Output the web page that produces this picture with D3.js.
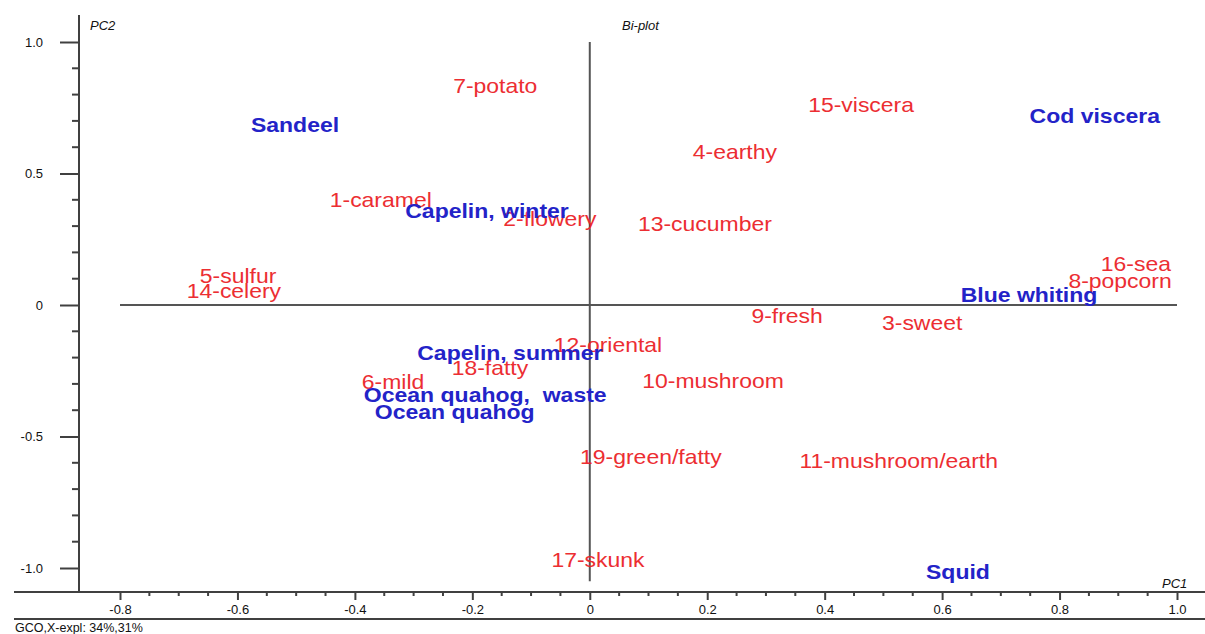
<!DOCTYPE html>
<html>
<head>
<meta charset="utf-8">
<script src="https://cdn.jsdelivr.net/npm/d3@7"></script>
<style>
  html, body { margin: 0; padding: 0; background: #fff; }
  svg { display: block; }
  text { font-family: "Liberation Sans", Arial, sans-serif; }
</style>
</head>
<body>
<svg id="chart" width="1205" height="634"></svg>
<script>
// Sensory attributes (loadings) – PC1 / PC2
const attributes = ["7-potato", "15-viscera", "4-earthy", "1-caramel", "2-flowery", "13-cucumber",
  "5-sulfur", "14-celery", "16-sea", "8-popcorn", "9-fresh", "3-sweet", "12-oriental",
  "18-fatty", "6-mild", "10-mushroom", "19-green/fatty", "11-mushroom/earth", "17-skunk"];
const attrPC1 = [-0.161, 0.462, 0.247, -0.356, -0.068, 0.196, -0.599, -0.606, 0.930, 0.903,
  0.336, 0.566, 0.031, -0.170, -0.335, 0.210, 0.104, 0.526, 0.014];
const attrPC2 = [0.833, 0.760, 0.582, 0.399, 0.327, 0.308, 0.110, 0.053, 0.156, 0.091,
  -0.042, -0.068, -0.152, -0.240, -0.293, -0.289, -0.578, -0.593, -0.970];

// Raw materials (scores) – PC1 / PC2
const samples = ["Sandeel", "Cod viscera", "Capelin, winter", "Blue whiting", "Capelin, summer",
  "Ocean quahog,  waste", "Ocean quahog", "Squid"];
const samplePC1 = [-0.502, 0.860, -0.175, 0.748, -0.136, -0.178, -0.230, 0.627];
const samplePC2 = [0.684, 0.715, 0.354, 0.034, -0.183, -0.346, -0.411, -1.019];

// Axis ticks
const xMajor = [-0.8, -0.6, -0.4, -0.2, 0, 0.2, 0.4, 0.6, 0.8, 1.0];
const xLabels = ["-0.8", "-0.6", "-0.4", "-0.2", "0", "0.2", "0.4", "0.6", "0.8", "1.0"];
const yMajor = [1.0, 0.5, 0, -0.5, -1.0];
const yLabels = ["1.0", "0.5", "0", "-0.5", "-1.0"];
const footer = "GCO,X-expl: 34%,31%";

const svg = d3.select("#chart");
const x = d3.scaleLinear().domain([-0.8, 1.0]).range([120, 1177]);
const y = d3.scaleLinear().domain([-1, 1]).range([568, 42]);

const axisColor = "#404040";
const labelColor = "#111";
const frameLeft = 14, frameRight = 1205;
const yAxisX = 79, xAxisY = 592;

// minor tick positions
const xMinor = d3.range(-16, 21).map(i => i * 0.05).filter(v => !xMajor.some(m => Math.abs(m - v) < 1e-6));
const yMinor = d3.range(-10, 11).map(i => i * 0.1).filter(v => !yMajor.some(m => Math.abs(m - v) < 1e-6));

// Y axis
const gy = svg.append("g").attr("transform", `translate(${yAxisX},0)`);
gy.append("line").attr("x1", 0).attr("x2", 0).attr("y1", 15).attr("y2", xAxisY)
  .attr("stroke", axisColor).attr("stroke-width", 2);
gy.call(d3.axisLeft(y).tickValues(yMajor).tickSize(19).tickPadding(17)
    .tickFormat((d, i) => yLabels[i]))
  .call(g => g.select(".domain").remove())
  .call(g => g.selectAll(".tick line").attr("stroke", axisColor).attr("stroke-width", 2))
  .call(g => g.selectAll(".tick text").attr("fill", labelColor).attr("font-size", 13)
     .attr("font-family", "'Liberation Sans', Arial, sans-serif"));
gy.selectAll("line.minor").data(yMinor).join("line").attr("class", "minor")
  .attr("x1", -7).attr("x2", 0).attr("y1", d => y(d)).attr("y2", d => y(d))
  .attr("stroke", axisColor).attr("stroke-width", 2);

// X axis
const gx = svg.append("g").attr("transform", `translate(0,${xAxisY})`);
gx.append("line").attr("x1", frameLeft).attr("x2", frameRight).attr("y1", 0).attr("y2", 0)
  .attr("stroke", axisColor).attr("stroke-width", 2);
gx.call(d3.axisBottom(x).tickValues(xMajor).tickSize(8).tickPadding(5)
    .tickFormat((d, i) => xLabels[i]))
  .call(g => g.select(".domain").remove())
  .call(g => g.selectAll(".tick line").attr("stroke", axisColor).attr("stroke-width", 2))
  .call(g => g.selectAll(".tick text").attr("fill", labelColor).attr("font-size", 13)
     .attr("font-family", "'Liberation Sans', Arial, sans-serif"));
gx.selectAll("line.minor").data(xMinor).join("line").attr("class", "minor")
  .attr("x1", d => x(d)).attr("x2", d => x(d)).attr("y1", 0).attr("y2", 4)
  .attr("stroke", axisColor).attr("stroke-width", 2);

// bottom frame line and footer
svg.append("line").attr("x1", frameLeft).attr("x2", frameRight).attr("y1", 619).attr("y2", 619)
  .attr("stroke", axisColor).attr("stroke-width", 2);
svg.append("text").attr("x", 15).attr("y", 632).attr("font-size", 12.5).attr("fill", labelColor)
  .text(footer);

// origin cross
svg.append("line").attr("x1", x(-0.8)).attr("x2", x(1.0)).attr("y1", y(0)).attr("y2", y(0))
  .attr("stroke", "#555").attr("stroke-width", 2);
svg.append("line").attr("x1", x(0)).attr("x2", x(0)).attr("y1", y(1.0)).attr("y2", y(-1.05))
  .attr("stroke", "#555").attr("stroke-width", 2);

// axis titles
svg.append("text").attr("x", 90).attr("y", 30).attr("font-size", 13).attr("font-style", "italic")
  .attr("fill", labelColor).text("PC2");
svg.append("text").attr("x", 622).attr("y", 30).attr("font-size", 13).attr("font-style", "italic")
  .attr("fill", labelColor).text("Bi-plot");
svg.append("text").attr("x", 1162).attr("y", 588).attr("font-size", 13).attr("font-style", "italic")
  .attr("fill", labelColor).text("PC1");

// attribute labels
const attrData = attributes.map((n, i) => ({ n, px: attrPC1[i], py: attrPC2[i] }));
svg.append("g").selectAll("text").data(attrData).join("text")
  .attr("transform", d => `translate(${x(d.px)},${y(d.py)}) scale(1.12,1)`)
  .attr("text-anchor", "middle").attr("dominant-baseline", "central")
  .attr("font-size", 20.5).attr("fill", "#ec2328").attr("opacity", 0.95)
  .text(d => d.n);

// sample labels
const sampleData = samples.map((n, i) => ({ n, px: samplePC1[i], py: samplePC2[i] }));
svg.append("g").selectAll("text").data(sampleData).join("text")
  .attr("transform", d => `translate(${x(d.px)},${y(d.py)}) scale(1.18,1)`)
  .attr("text-anchor", "middle").attr("dominant-baseline", "central")
  .attr("xml:space", "preserve").style("white-space", "pre")
  .attr("font-size", 19.5).attr("font-weight", "bold").attr("fill", "#2323c8")
  .text(d => d.n);
</script>
</body>
</html>
